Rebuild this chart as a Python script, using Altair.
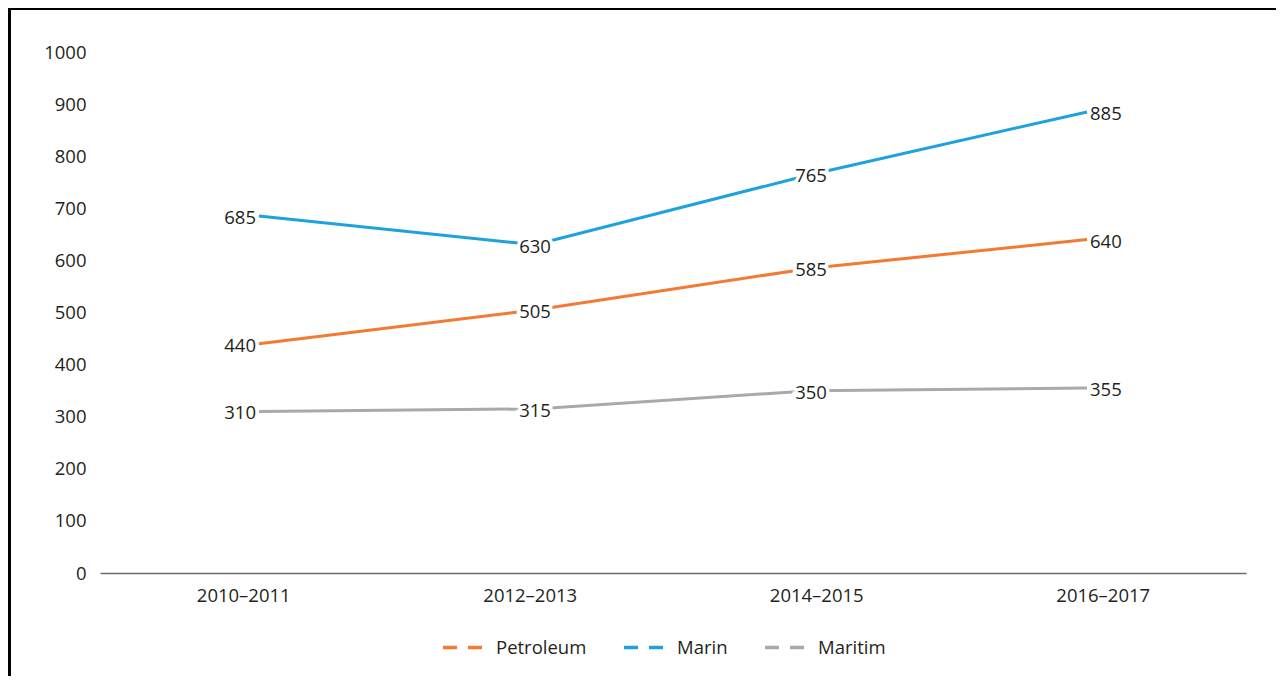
import altair as alt
import pandas as pd

periods = ["2010–2011", "2012–2013", "2014–2015", "2016–2017"]
series_names = ["Petroleum", "Marin", "Maritim"]
petroleum = [440, 505, 585, 640]
marin = [685, 630, 765, 885]
maritim = [310, 315, 350, 355]
colors = ["#F37A34", "#1EA1DC", "#A7A9AC"]
y_ticks = [0, 100, 200, 300, 400, 500, 600, 700, 800, 900, 1000]

rows = []
for name, vals in zip(series_names, [petroleum, marin, maritim]):
    for i, (p, v) in enumerate(zip(periods, vals)):
        rows.append({"series": name, "period": p, "value": v, "idx": i})
df = pd.DataFrame(rows)

FONT = "Open Sans"
TXT = "#231F20"
FS = 18.5
W, H = 1146, 521

xline = alt.X("period:N", sort=periods,
              scale=alt.Scale(type="point", domain=periods, padding=0.576),
              axis=None)
yenc = alt.Y("value:Q", scale=alt.Scale(domain=[0, 1000]),
             axis=alt.Axis(values=y_ticks, format="d", grid=False, domain=False, ticks=False,
                           labelPadding=14, labelFont=FONT, labelFontSize=FS,
                           labelColor=TXT, title=None))
color = alt.Color("series:N", sort=series_names,
                  scale=alt.Scale(domain=series_names, range=colors),
                  legend=alt.Legend(title=None, orient="none", direction="horizontal",
                                    legendX=341, legendY=573,
                                    symbolType="stroke", symbolDash=[14, 11],
                                    symbolStrokeWidth=3.5, symbolSize=1680,
                                    labelFont=FONT, labelFontSize=FS, labelColor=TXT,
                                    labelOffset=10, columnPadding=30))

base = alt.Chart(df)
lines = base.mark_line(strokeWidth=3).encode(x=xline, y=yenc, color=color)

mid = base.transform_filter("datum.idx == 1 || datum.idx == 2")
halo = mid.mark_text(font=FONT, fontSize=FS, stroke="white", strokeWidth=7,
                     fill="white", baseline="middle", dy=2).encode(
    x=xline, y="value:Q", text="value:Q")
mid_txt = mid.mark_text(font=FONT, fontSize=FS, color=TXT, baseline="middle", dy=2).encode(
    x=xline, y="value:Q", text="value:Q")
first_txt = base.transform_filter("datum.idx == 0").mark_text(
    font=FONT, fontSize=FS, color=TXT, align="right", dx=-3, dy=2, baseline="middle").encode(
    x=xline, y="value:Q", text="value:Q")
last_txt = base.transform_filter("datum.idx == 3").mark_text(
    font=FONT, fontSize=FS, color=TXT, align="left", dx=3, dy=2, baseline="middle").encode(
    x=xline, y="value:Q", text="value:Q")

frame_df = pd.DataFrame({"a": [0]})
top_rule = alt.Chart(frame_df).mark_rule(color="black", strokeWidth=2).encode(
    x=alt.value(-92), x2=alt.value(1176), y=alt.value(-43))
left_rule = alt.Chart(frame_df).mark_rule(color="black", strokeWidth=3).encode(
    x=alt.value(-90.5), y=alt.value(-44), y2=alt.value(624))

inner = alt.layer(lines, halo, mid_txt, first_txt, last_txt, top_rule, left_rule)

axis_layer = alt.Chart(pd.DataFrame({"period": periods, "value": [0] * 4})).mark_point(
    opacity=0).encode(
    x=alt.X("period:N", sort=periods,
            scale=alt.Scale(type="point", domain=periods, padding=0.5),
            axis=alt.Axis(orient="bottom", domainColor="#6D6E71", domainWidth=1.5,
                          ticks=False, labelAngle=0, labelPadding=13, labelFont=FONT,
                          labelFontSize=FS, labelColor=TXT, title=None)),
    y=alt.Y("value:Q"))

chart = alt.layer(inner, axis_layer).resolve_scale(x="independent").properties(
    width=W, height=H,
    padding={"left": 92, "top": 44, "right": 30, "bottom": 103},
    autosize="none",
).configure_view(stroke=None)

chart.save("out.html", embed_options={"renderer": "svg", "actions": False})
